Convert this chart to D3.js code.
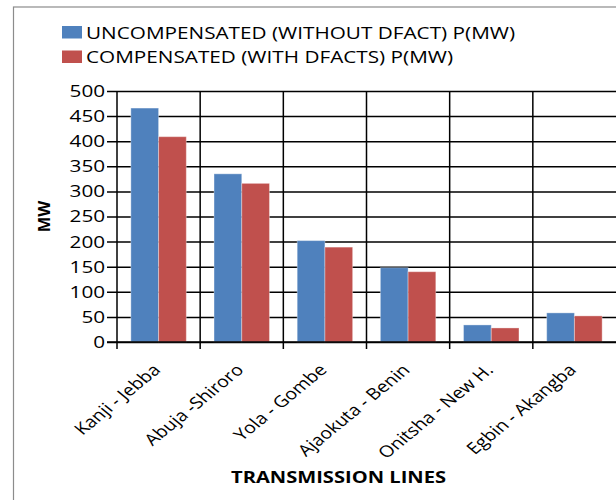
<!DOCTYPE html>
<html>
<head>
<meta charset="utf-8">
<script src="https://cdn.jsdelivr.net/npm/d3@7"></script>
<style>
  body { margin: 0; background: #fff; }
  svg text { font-family: "Open Sans", sans-serif; fill: #000; }
</style>
</head>
<body>
<script>
// data
var lines = ["Kanji - Jebba", "Abuja -Shiroro", "Yola - Gombe", "Ajaokuta - Benin", "Onitsha - New H.", "Egbin - Akangba"];
var uncompensated = [466, 335, 202, 148, 34, 58];
var compensated = [409, 316, 189, 140, 28, 52];
var seriesNames = ["UNCOMPENSATED (WITHOUT DFACT) P(MW)", "COMPENSATED (WITH DFACTS) P(MW)"];
var yTicks = [0, 50, 100, 150, 200, 250, 300, 350, 400, 450, 500];

var colors = ["#4F81BD", "#C0504D"];
var width = 616, height = 500;
var margins = {top: 91, left: 117, right: 0, bottom: 158};
// the source picture is stretched sideways, so the text is too
var sx = 1.22;

var svg = d3.select("body").append("svg")
    .attr("width", width)
    .attr("height", height);

// outer frame
svg.append("rect")
    .attr("x", 13.5).attr("y", 7)
    .attr("width", 640).attr("height", 520)
    .attr("fill", "none")
    .attr("stroke", "#8c8c8c")
    .attr("stroke-width", 1.2);

var x = d3.scaleBand()
    .domain(lines)
    .range([margins.left, width - margins.right])
    .paddingInner(0).paddingOuter(0);

var x1 = d3.scaleBand()
    .domain([0, 1])
    .range([0, x.bandwidth()])
    .paddingOuter(0.5).paddingInner(0);

var y = d3.scaleLinear()
    .domain([0, 500])
    .range([height - margins.bottom, margins.top]);

// horizontal grid + y axis ticks
var yAxis = d3.axisLeft(y)
    .tickValues(yTicks)
    .tickSize(-(width - margins.left) - 10)
    .tickFormat(d3.format("d"));

var yG = svg.append("g")
    .attr("transform", "translate(" + (margins.left - 10) + ",0)")
    .call(yAxis);
yG.select(".domain").remove();
yG.selectAll(".tick line").attr("stroke", "#000").attr("stroke-width", 1.5);
yG.selectAll(".tick text")
    .attr("font-size", "17px")
    .attr("x", -1.5)
    .attr("transform", "scale(" + sx + ",1)")
    .style("font-family", "Open Sans, sans-serif");

// vertical category separators (extend below axis as ticks)
var bounds = lines.map(function (d) { return x(d); });
svg.append("g").selectAll("line")
    .data(bounds)
    .enter().append("line")
    .attr("x1", function (d) { return d; })
    .attr("x2", function (d) { return d; })
    .attr("y1", y(500))
    .attr("y2", y(0) + 7)
    .attr("stroke", "#000")
    .attr("stroke-width", 1.5);

// bars
var seriesData = [uncompensated, compensated];
var groups = svg.append("g").selectAll("g")
    .data(lines)
    .enter().append("g")
    .attr("transform", function (d) { return "translate(" + x(d) + ",0)"; });

groups.selectAll("rect")
    .data(function (d, i) { return seriesData.map(function (s, k) { return {k: k, v: s[i]}; }); })
    .enter().append("rect")
    .attr("x", function (d) { return x1(d.k); })
    .attr("width", x1.bandwidth())
    .attr("y", function (d) { return y(d.v); })
    .attr("height", function (d) { return y(0) - y(d.v); })
    .attr("fill", function (d) { return colors[d.k]; })
    .attr("stroke", "#ffffff")
    .attr("stroke-opacity", 0.35)
    .attr("stroke-width", 1);

// x axis baseline
svg.append("line")
    .attr("x1", margins.left - 10).attr("x2", width)
    .attr("y1", y(0)).attr("y2", y(0))
    .attr("stroke", "#000").attr("stroke-width", 1.5);

// x labels, rotated
svg.append("g").selectAll("text")
    .data(lines)
    .enter().append("text")
    .attr("text-anchor", "end")
    .attr("font-size", "16px")
    .attr("transform", function (d) {
        return "translate(" + (x(d) + x.bandwidth() / 2 + 3) + "," + (y(0) + 29) + ") scale(" + sx + ",1) rotate(-45)";
    })
    .text(function (d) { return d; });

// axis titles
svg.append("text")
    .attr("transform", "translate(49.5," + ((y(0) + y(500)) / 2) + ") rotate(-90)")
    .attr("text-anchor", "middle")
    .attr("font-size", "16.5px")
    .attr("font-weight", "bold")
    .text("MW");

svg.append("text")
    .attr("transform", "translate(338.5,483) scale(" + sx + ",1)")
    .attr("text-anchor", "middle")
    .attr("font-size", "16.5px")
    .attr("font-weight", "bold")
    .text("TRANSMISSION LINES");

// legend
var legend = svg.append("g").selectAll("g")
    .data(seriesNames)
    .enter().append("g")
    .attr("transform", function (d, i) { return "translate(62," + (26 + i * 24.5) + ")"; });

legend.append("rect")
    .attr("width", 20).attr("height", 12.5)
    .attr("fill", function (d, i) { return colors[i]; });

legend.append("text")
    .attr("transform", "translate(24,12.5) scale(" + sx + ",1)")
    .attr("font-size", "17px")
    .text(function (d) { return d; });
</script>
</body>
</html>
